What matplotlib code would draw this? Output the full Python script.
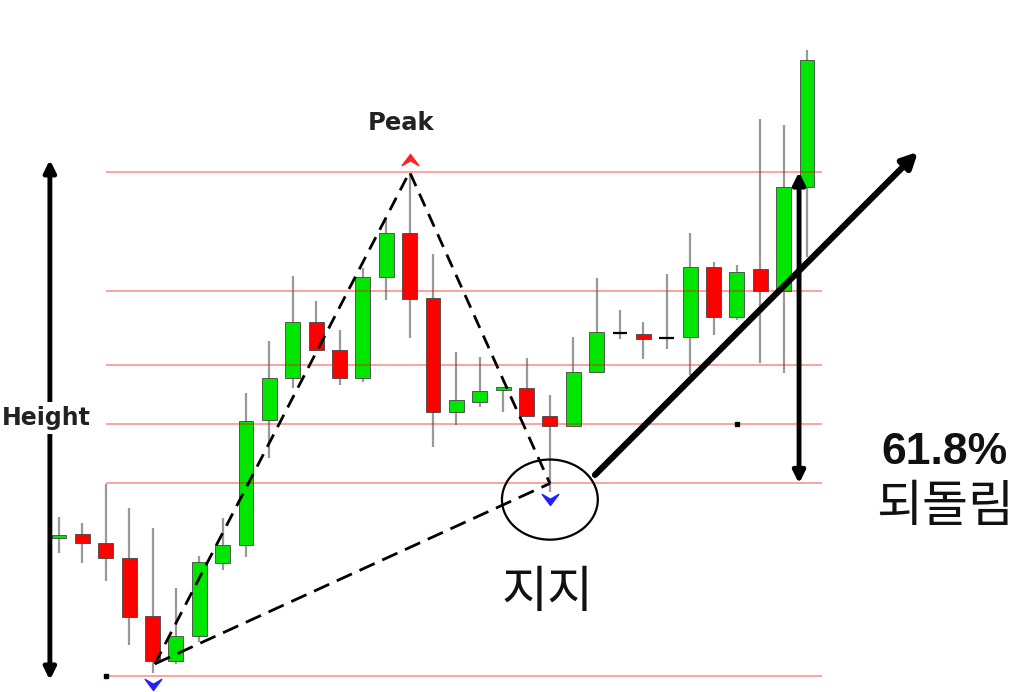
import numpy as np
import matplotlib.pyplot as plt
from matplotlib.patches import Ellipse
from matplotlib.path import Path

# Candle data (price scale: swing low = 0, swing high = 100)
opens = [27.3, 28.2, 26.4, 23.4, 11.9, 3.0, 7.9, 22.4, 26.0, 50.8, 59.1,
         70.2, 64.7, 59.1, 79.2, 87.9, 75.0, 52.4, 54.4, 56.7, 57.1, 51.6,
         49.6, 60.3, 68.1, 67.9, 67.1, 67.3, 81.2, 71.2, 80.8, 76.4, 97.0]
closes = [28.0, 26.4, 23.4, 11.7, 3.0, 7.9, 22.6, 26.0, 50.6, 59.1, 70.2,
          64.7, 59.1, 79.2, 87.9, 74.8, 52.4, 54.8, 56.5, 57.3, 51.6, 49.6,
          60.3, 68.3, 68.1, 66.9, 67.1, 81.2, 71.2, 80.2, 76.4, 97.0, 122.2]
highs = [31.5, 30.4, 38.1, 33.3, 29.4, 17.5, 23.8, 31.3, 56.2, 66.5, 79.4,
         74.4, 68.7, 81.0, 90.9, 99.8, 83.7, 64.3, 63.3, 57.3, 63.1, 55.8,
         67.3, 79.0, 72.6, 70.2, 79.8, 87.9, 82.1, 81.5, 110.5, 109.3, 124.2]
lows = [24.4, 22.4, 18.8, 6.2, 0.6, 2.4, 6.7, 21.0, 23.6, 43.3, 57.1,
        64.7, 57.7, 58.3, 74.6, 67.1, 45.4, 49.8, 53.4, 52.4, 51.6, 36.5,
        49.6, 60.1, 66.9, 62.9, 64.9, 59.7, 67.7, 70.6, 62.1, 60.1, 83.1]

# Fibonacci levels
fib_levels = [0, 38.2, 50, 61.8, 76.4, 100]

# Swing points for the dashed pattern lines
pivot_x = [4.1, 15, 21]
pivot_y = [2.4, 100, 38.2]

x = np.arange(len(opens))

fig = plt.figure(figsize=(10.34, 6.92), dpi=100)
ax = fig.add_axes([0, 0, 1, 1])
ax.set_xlim(-59 / 23.375, (1034 - 59) / 23.375)
ax.set_ylim(-16 / 5.04, 676 / 5.04)
ax.axis('off')

# Candles
w = 0.64
ax.vlines(x, lows, highs, color='#999999', lw=1.6, zorder=2)
for i in range(len(x)):
    o, c = opens[i], closes[i]
    if c > o:
        col, ec, lw = '#00e600', '#444444', 0.6
    elif c < o:
        col, ec, lw = '#ff0000', '#444444', 0.6
    else:
        col, ec, lw = 'black', 'black', 1.6
    ax.bar(x[i], abs(c - o), width=w, bottom=min(o, c), color=col,
           edgecolor=ec, linewidth=lw, zorder=3)

# Fib lines
for lv in fib_levels:
    ax.hlines(lv, 2, 32.65, color='#ff0000', alpha=0.4, lw=1.3, zorder=4)

# Small dots
ax.plot([2, 29], [0, 50], 's', color='black', ms=3, zorder=5)

# Dashed pattern lines
ax.plot([pivot_x[0], pivot_x[1], pivot_x[2]], [pivot_y[0], pivot_y[1], pivot_y[2]],
        color='black', lw=2, ls=(0, (5, 3)), zorder=6)
ax.plot([pivot_x[0], pivot_x[2]], [pivot_y[0], pivot_y[2]],
        color='black', lw=2, ls=(0, (6, 3)), zorder=6)

# Fractal arrows
arrow_dn = Path([(0, 0), (-0.6, 0.8), (0, 0.45), (0.6, 0.8), (0, 0)],
                [Path.MOVETO, Path.LINETO, Path.LINETO, Path.LINETO, Path.CLOSEPOLY])
arrow_up = Path([(0, 0), (-0.6, -0.8), (0, -0.45), (0.6, -0.8), (0, 0)],
                [Path.MOVETO, Path.LINETO, Path.LINETO, Path.LINETO, Path.CLOSEPOLY])
ax.plot([4, 21], [-2.8, 34.0], marker=arrow_dn, ls='none', ms=16,
        color='#2020ff', zorder=7)
ax.plot([15], [103.6], marker=arrow_up, ls='none', ms=16, color='#ff2020', zorder=7)

# Support ellipse
ax.add_patch(Ellipse((21.0, 35.0), 4.1, 15.9, fill=False, ec='black', lw=1.6, zorder=7))

# Thick breakout arrow
ax.annotate('', xy=(36.75, 104.0), xytext=(22.93, 39.9),
            arrowprops=dict(arrowstyle='-|>,head_length=0.9,head_width=0.45',
                            color='black', lw=4.5, shrinkA=0, shrinkB=0), zorder=8)

# Retracement double arrow
ax.annotate('', xy=(31.66, 100), xytext=(31.66, 38.2),
            arrowprops=dict(arrowstyle='<|-|>,head_length=0.7,head_width=0.35',
                            color='black', lw=3.5, shrinkA=0, shrinkB=0), zorder=8)

# Height arrow
ax.annotate('', xy=(-0.39, 102.4), xytext=(-0.39, -0.8),
            arrowprops=dict(arrowstyle='<|-|>,head_length=0.7,head_width=0.35',
                            color='black', lw=3.5, shrinkA=0, shrinkB=0), zorder=8)
ax.text(-0.55, 51.2, 'Height', ha='center', va='center', fontsize=17,
        fontweight='bold', color='#222222', zorder=9,
        bbox=dict(facecolor='white', edgecolor='none', pad=3))

ax.text(14.63, 109.8, 'Peak', ha='center', va='center', fontsize=17.5,
        fontweight='bold', color='#222222', zorder=9)

ax.text(20.9, 16.5, '지지', ha='center', va='center', fontsize=36,
        fontweight='light', family=['Noto Sans CJK KR', 'DejaVu Sans'],
        color='#111111', zorder=9)
ax.text(37.9, 44.3, '61.8%', ha='center', va='center', fontsize=32,
        fontweight='bold', family=['Liberation Sans', 'DejaVu Sans'],
        color='#111111', zorder=9)
ax.text(37.9, 33.6, '되돌림', ha='center', va='center', fontsize=36,
        fontweight='light', family=['Noto Sans CJK KR', 'DejaVu Sans'],
        color='#111111', zorder=9)

plt.savefig('out.png', dpi=100)
